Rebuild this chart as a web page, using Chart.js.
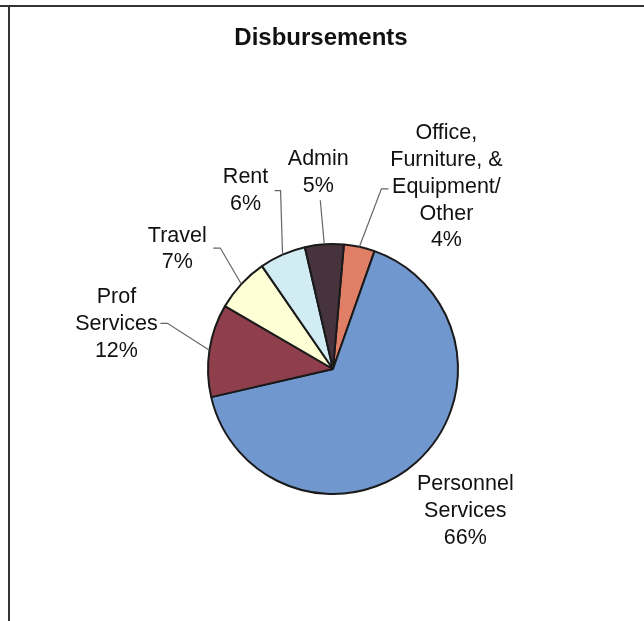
<!DOCTYPE html>
<html>
<head>
    <title>Disbursements</title>
    <script src="https://cdn.jsdelivr.net/npm/chart.js"></script>
    <style>
        body { margin: 0; background: #fff; }
        #wrap { position: relative; width: 644px; height: 621px; overflow: hidden; }
        #topline { position: absolute; left: 0; right: 0; top: 5px; border-top: 2px solid #333; }
        #leftline { position: absolute; left: 8px; top: 5px; bottom: 0; border-left: 2px solid #333; }
        canvas { position: absolute; left: 0; top: 0; }
    </style>
</head>
<body>
<div id="wrap">
    <div id="topline"></div>
    <div id="leftline"></div>
    <canvas id="pieChart" width="644" height="621"></canvas>
</div>
<script>
    // data, clockwise from just right of 12 o'clock
    const labels = [['Office,', 'Furniture, &', 'Equipment/', 'Other'], ['Personnel', 'Services'],
                    ['Prof', 'Services'], ['Travel'], ['Rent'], ['Admin']];
    const percents = [4, 66, 12, 7, 6, 5];
    const colors = ['#E07F66', '#7197CF', '#8F3F4C', '#FFFFD6', '#D2ECF4', '#46333D'];

    // label placement relative to the slice's outer midpoint: [label dx, dy, elbow dx, dy, tail]
    const labelPlace = [
        [87, -60, 22, -58, 7],
        [49, 49, null, null, 0],
        [-93, -26, -42, -27, -7],
        [-64, -35, -21, -36, -7],
        [-37, -64, -2, -64, -6],
        [-6, -72, -4, -44, 0]
    ];

    const calloutPlugin = {
        id: 'callouts',
        afterDraw(chart) {
            const ctx = chart.ctx;
            const arcs = chart.getDatasetMeta(0).data;
            ctx.save();
            // title
            ctx.fillStyle = '#111';
            ctx.font = 'bold 24px "Liberation Sans", Arial, sans-serif';
            ctx.textAlign = 'center';
            ctx.textBaseline = 'middle';
            ctx.fillText('Disbursements', 321, 38);

            ctx.font = '21.5px "Liberation Sans", Arial, sans-serif';
            const lh = 26.8;
            arcs.forEach((arc, i) => {
                const mid = (arc.startAngle + arc.endAngle) / 2;
                const ex = arc.x + Math.cos(mid) * arc.outerRadius;
                const ey = arc.y + Math.sin(mid) * arc.outerRadius;
                const p = labelPlace[i];
                if (p[2] !== null) {
                    ctx.strokeStyle = '#666';
                    ctx.lineWidth = 1.2;
                    ctx.beginPath();
                    ctx.moveTo(ex, ey);
                    ctx.lineTo(ex + p[2], ey + p[3]);
                    if (p[4]) ctx.lineTo(ex + p[2] + p[4], ey + p[3]);
                    ctx.stroke();
                }
                const lines = labels[i].concat([percents[i] + '%']);
                const cx = ex + p[0];
                const cy = ey + p[1] - (lines.length - 1) * lh / 2;
                ctx.fillStyle = '#111';
                lines.forEach((t, k) => ctx.fillText(t, cx, cy + k * lh));
            });
            ctx.restore();
        }
    };

    new Chart(document.getElementById('pieChart').getContext('2d'), {
        type: 'pie',
        data: {
            labels: labels.map(l => l.join(' ')),
            datasets: [{
                data: percents,
                backgroundColor: colors,
                borderColor: '#1a1a1a',
                borderWidth: 2
            }]
        },
        options: {
            responsive: false,
            animation: false,
            rotation: 5,
            layout: { padding: { left: 207, right: 185, top: 243, bottom: 126 } },
            plugins: {
                legend: { display: false },
                title: { display: false },
                tooltip: { enabled: false }
            }
        },
        plugins: [calloutPlugin]
    });
</script>
</body>
</html>
